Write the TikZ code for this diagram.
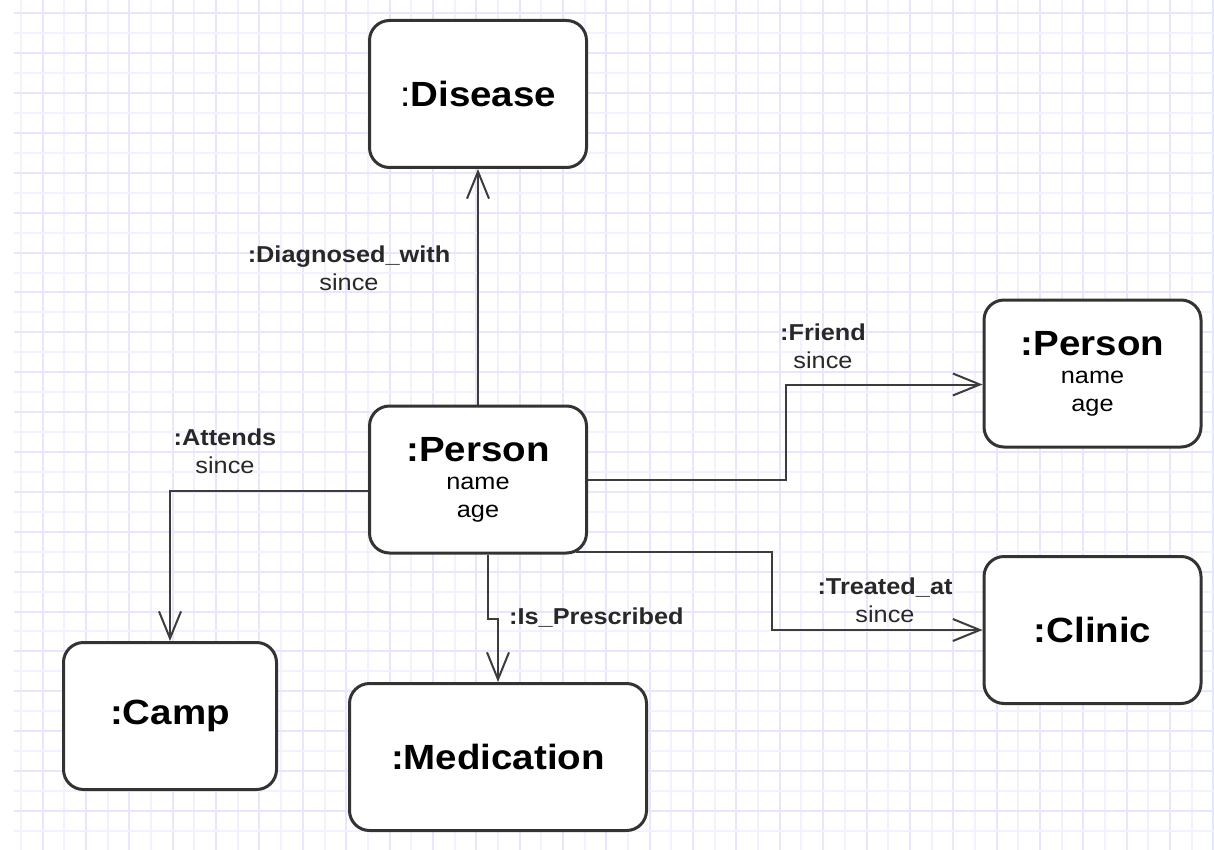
\documentclass[tikz,border=0pt]{standalone}
\usepackage{fontspec}
\setmainfont{Liberation Sans}[FakeStretch=1.1]
\usetikzlibrary{arrows.meta,positioning,calc}

\definecolor{rejillafuerte}{RGB}{230,230,252}
\definecolor{rejillasuave}{RGB}{242,242,254}
\definecolor{borde}{RGB}{51,51,51}
\definecolor{flecha}{RGB}{60,60,60}
\definecolor{textorel}{RGB}{40,40,40}

\newcommand{\titulo}{\fontsize{35}{38}\selectfont\bfseries}
\newcommand{\atrib}{\fontsize{23}{28}\selectfont}

\tikzset{
  objeto/.style={draw=borde, line width=3pt, rounded corners=20pt, fill=white,
    minimum width=217pt, minimum height=147pt, align=center, inner sep=0pt,
    font=\atrib},
  relacion/.style={draw=flecha, line width=2pt,
    -{Straight Barb[length=27pt,width=22pt]}},
  etiqueta/.style={align=center, text=textorel, font=\atrib, inner sep=0pt},
}

\begin{document}
\begin{tikzpicture}[x=1pt,y=-1pt]

    \def\dx{21.68} % Separación de la rejilla en x
    \def\dy{19.94} % Separación de la rejilla en y

    % Fondo y rejilla
    \useasboundingbox (0,0) rectangle (1214,850);
    \fill[white] (0,0) rectangle (1214,850);
    \foreach \k in {0,...,55} {
        \ifodd\k \def\gcol{rejillafuerte}\else \def\gcol{rejillasuave}\fi
        \draw[\gcol, line width=2pt] ({21+\k*\dx},0) -- ({21+\k*\dx},850);
    }
    \foreach \k in {0,...,41} {
        \ifodd\k \def\gcol{rejillasuave}\else \def\gcol{rejillafuerte}\fi
        \draw[\gcol, line width=2pt] (14,{13.3+\k*\dy}) -- (1214,{13.3+\k*\dy});
    }

    % Objetos
    \node[objeto] (disease) at (478,94) {\titulo{\mdseries :}Disease};
    \node[objeto] (person) at (478,479.5) {{\titulo :Person}\\ name\\ age};
    \node[objeto] (friend) at (1092.5,373.5) {{\titulo :Person}\\ name\\ age};
    \node[objeto] (clinic) at (1092.5,630) {\titulo :Clinic};
    \node[objeto, minimum width=213pt] (camp) at (170,716) {\titulo :Camp};
    \node[objeto, minimum width=297pt] (medication) at (498,757) {\titulo :Medication};

    % Relaciones
    \draw[relacion] (person.north) -- (disease.south);
    \draw[relacion] ([yshift=-11pt]person.west) -| (camp.north);
    \draw[relacion] (person.east) -- ++(197.5,0) |- ([yshift=-11pt]friend.west);
    \draw[relacion] ([shift={(-12pt,3pt)}]person.south east) -- ++(196,0) |- (clinic.west);
    \draw[relacion] ([xshift=10pt]person.south) -- ++(0,64) -| (medication.north);

    % Etiquetas
    \node[etiqueta] (diaglbl) at (349,268.5) {\textbf{:Diagnosed\_with}\\ since};
    \node[etiqueta] (attlbl) at (225,451.5) {\textbf{:Attends}\\ since};
    \node[etiqueta] (frlbl) at (823,346.5) {\textbf{:Friend}\\ since};
    \node[etiqueta] (trlbl) at (885,600.5) {\textbf{:Treated\_at}\\ since};
    \node[etiqueta, anchor=base west] (prlbl) at (509,624) {\textbf{:Is\_Prescribed}};

\end{tikzpicture}
\end{document}
